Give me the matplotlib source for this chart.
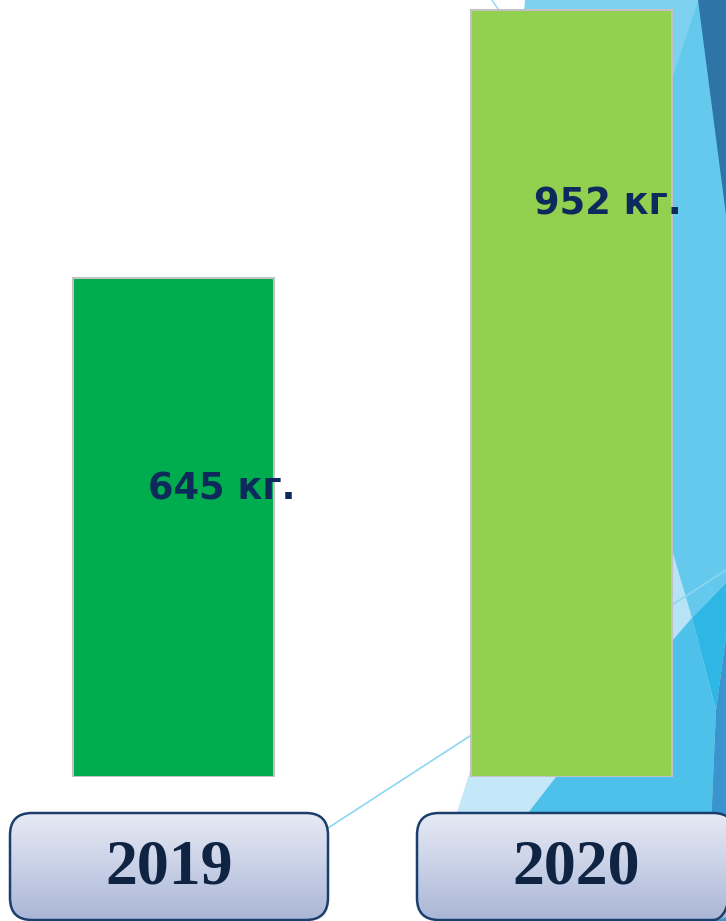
import numpy as np
import matplotlib
matplotlib.use('Agg')
import matplotlib.pyplot as plt
from matplotlib.patches import Polygon, FancyBboxPatch
from matplotlib.colors import LinearSegmentedColormap

# ── data ────────────────────────────────────────────────────────────────
years = ['2019', '2020']
values = [645, 952]
unit = 'кг.'

# ── style ───────────────────────────────────────────────────────────────
BAR_COLORS = ['#00AD4E', '#92D050']
LABEL_COLOR = '#0E2A5C'
YEAR_COLOR = '#0F2342'
BOX_EDGE = '#1B3E6D'
W, H = 726, 921           # output size, px
Y0, Y1 = 73.4, 963.4      # value axis range (axis doesn't start at 0)
LABEL_POS = [(0.122, 0.626), (0.092, 0.767)]   # (dx, fraction of value)
BOX_DX = [-4.5, 4.5]      # small px shift of the year boxes

fig = plt.figure(figsize=(W / 100, H / 100), dpi=100)
fig.patch.set_facecolor('white')

# background decoration, pixel coords (y down)
bg = fig.add_axes([0, 0, 1, 1], zorder=0)
bg.set_xlim(0, W)
bg.set_ylim(H, 0)
bg.axis('off')
shapes = [
    ('#C4E8F7', [(525, 0), (726, 0), (726, 921), (445, 921), (457, 812), (473, 762), (500, 400)]),
    ('#7ED2EF', [(525, 0), (698, 0), (673, 75), (560, 250), (500, 400)]),
    ('#64C9EC', [(673, 75), (698, 0), (726, 0), (726, 583), (692, 618), (673, 640), (600, 640), (600, 200)]),
    ('#2E74A6', [(698, 0), (726, 0), (726, 215)]),
    ('#B6E4F6', [(650, 550), (673, 553), (692, 618), (673, 640), (650, 640)]),
    ('#2EB7E5', [(692, 618), (726, 583), (726, 636), (716, 710)]),
    ('#4DC1E9', [(673, 640), (692, 618), (716, 710), (707, 921), (500, 921), (528, 813), (556, 777), (620, 680)]),
    ('#3A95CE', [(726, 636), (716, 710), (707, 921), (726, 921)]),
]
for col, pts in shapes:
    bg.add_patch(Polygon(pts, closed=True, facecolor=col, edgecolor='none'))
bg.plot([328, 726], [828, 570], color='#8DD6F2', lw=1.2)
bg.plot([492, 500], [0, 12], color='#8DD6F2', lw=1.0)

# ── bars ────────────────────────────────────────────────────────────────
ax = fig.add_axes([0, 144 / H, 1, 777 / H], zorder=1)
ax.patch.set_alpha(0)
x = np.arange(len(values))
ax.set_xlim(-173.5 / 398, (W - 173.5) / 398)
ax.set_ylim(Y0, Y1)
ax.axis('off')
heights = np.array(values) - Y0
ax.bar(x, heights, bottom=Y0, width=0.505, color=BAR_COLORS,
       edgecolor='#C2C2C2', linewidth=1.5)

for i, v in enumerate(values):
    dx, fy = LABEL_POS[i]
    ax.text(i + dx, v * fy, f'{v} {unit}', ha='center', va='center',
            fontsize=26.5, fontweight='bold', color=LABEL_COLOR,
            family='DejaVu Sans')

# ── year boxes ──────────────────────────────────────────────────────────
fg = fig.add_axes([0, 0, 1, 1], zorder=2)
fg.patch.set_alpha(0)
fg.axis('off')
cmap = LinearSegmentedColormap.from_list('box', ['#E7EAF4', '#C9D1E7', '#AAB6D6'])
grad = np.linspace(0, 1, 200).reshape(-1, 1)
box_w, box_top, box_bot = 318, 813, 920
for i, yr in enumerate(years):
    cx = ax.transData.transform((i, Y0))[0] + BOX_DX[i]
    x0 = cx - box_w / 2
    patch = FancyBboxPatch((x0, box_top), box_w, box_bot - box_top,
                           boxstyle='round,pad=0,rounding_size=22',
                           facecolor='none', edgecolor=BOX_EDGE, lw=1.8, zorder=3)
    fg.add_patch(patch)
    im = fg.imshow(grad, cmap=cmap, aspect='auto', origin='upper',
                   extent=(x0, x0 + box_w, box_bot, box_top), zorder=2)
    im.set_clip_path(patch)
    fg.text(cx, 868, yr, ha='center', va='center', fontsize=46,
            fontweight='bold', color=YEAR_COLOR, family='Liberation Serif', zorder=4)
fg.set_xlim(0, W)
fg.set_ylim(H, 0)

fig.savefig('out.png', dpi=100)
